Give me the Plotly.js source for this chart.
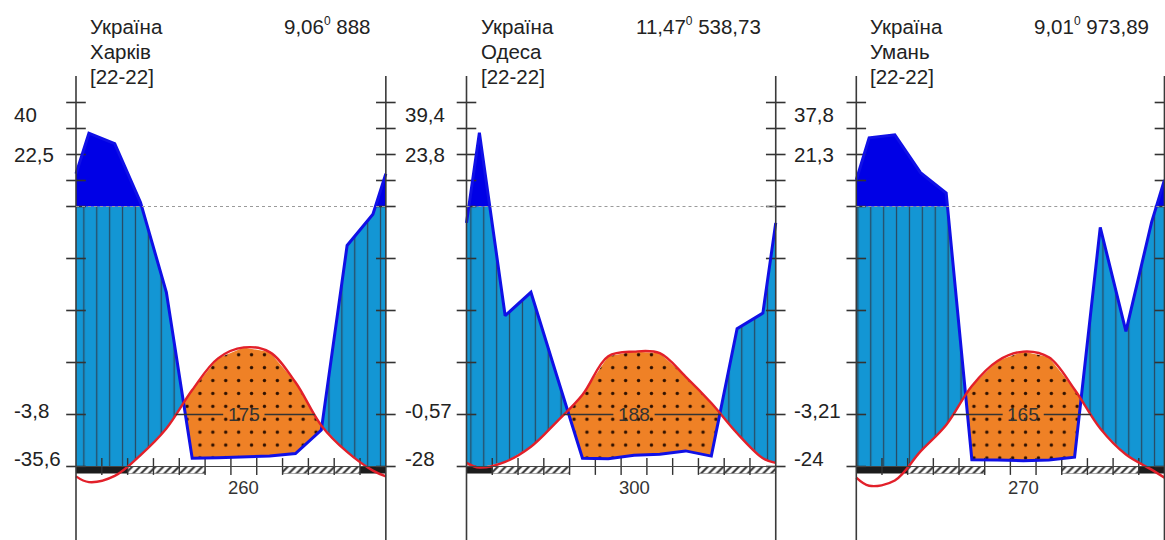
<!DOCTYPE html>
<html><head><meta charset="utf-8">
<script src="https://cdn.plot.ly/plotly-3.0.1.min.js"></script>
<style>html,body{margin:0;padding:0;background:#fff}#chart{width:1165px;height:540px}</style>
</head><body><div id="chart"></div>
<script>
// ---------- data ----------
const countries = ['Україна', 'Україна', 'Україна'];
const stations = ['Харків', 'Одеса', 'Умань'];
const periods = ['[22-22]', '[22-22]', '[22-22]'];
const meanTemps = ['9,06', '11,47', '9,01'];
const annualPrecip = ['888', '538,73', '973,89'];
const labelMaxT = ['40', '39,4', '37,8'];
const labelMeanMax = ['22,5', '23,8', '21,3'];
const labelMeanMin = ['-3,8', '-0,57', '-3,21'];
const labelAbsMin = ['-35,6', '-28', '-24'];
const daysAbove10 = ['175', '188', '165'];
const frostFreeDays = ['260', '300', '270'];

// monthly mean temperature, °C (Jan..Dec)
const tempKharkiv = [-3.0, -1.8, 2.2, 7.3, 14.7, 20.8, 22.9, 22.0, 16.2, 7.9, 2.8, -0.8];
const tempOdesa   = [-0.2, 0.9, 3.8, 8.6, 13.8, 21.2, 22.1, 21.8, 17.3, 12.2, 6.4, 1.6];
const tempUman    = [-3.7, -2.7, 2.9, 8.0, 15.5, 20.3, 22.1, 21.0, 14.8, 7.3, 2.3, -0.6];
// monthly precipitation, mm (Jan..Dec)
const precKharkiv = [382, 342, 115, 67, 3.2, 3.4, 3.7, 4.0, 5.0, 14, 85, 97];
const precOdesa   = [384, 58, 67, 35, 3.2, 3.0, 4.3, 4.7, 6.0, 4.0, 53, 59];
const precUman    = [364, 376, 230, 152, 2.6, 2.5, 2.2, 2.5, 3.6, 92, 52, 94];
// frost: 2 = sure frost (black), 1 = probable frost (hatched), 0 = none
const frostKharkiv = [2, 2, 1, 1, 1, 0, 0, 0, 1, 1, 1, 2];
const frostOdesa   = [2, 1, 1, 1, 0, 0, 0, 0, 0, 1, 1, 1];
const frostUman    = [2, 2, 1, 1, 1, 0, 0, 0, 1, 1, 1, 2];

// axis tick values (temperature units of the diagram)
const sideTicks = [0, 10, 20, 30, 40, 50, 55, 60, 65, 70];
const monthBounds = [1, 2, 3, 4, 5, 6, 7, 8, 9, 10, 11];

const temps = [tempKharkiv, tempOdesa, tempUman];
const precs = [precKharkiv, precOdesa, precUman];
const frosts = [frostKharkiv, frostOdesa, frostUman];

// ---------- layout geometry ----------
const W = 1165, H = 540;
const panelLeft = [76, 466.5, 856.3];
const panelScale = [25.82, 25.77, 25.68];
const baseY = 466.5, pxPerU = 5.2;
const FONT = 'Liberation Sans, Arial, sans-serif';
const TXT = '#222';

// Walter-Lieth precipitation scale: 2 mm per °C up to 100 mm, 20 mm per °C above
function toU(p) { return p <= 100 ? p / 2 : 50 + (p - 100) / 20; }
function lin(bx, by, x) {
  for (let i = 0; i < bx.length - 1; i++) {
    if (x >= bx[i] && x <= bx[i + 1]) {
      const t = (x - bx[i]) / (bx[i + 1] - bx[i]);
      return by[i] + t * (by[i + 1] - by[i]);
    }
  }
  return by[by.length - 1];
}

const traces = [];
const shapes = [];
const annotations = [];
const suffix = ['', '2', '3'];

for (let k = 0; k < 3; k++) {
  const xa = 'x' + suffix[k];
  const bx = [0].concat(temps[k].map((_, i) => i + 0.5)).concat([12]);
  const tEdge = (temps[k][0] + temps[k][11]) / 2;
  const pu = precs[k].map(toU);
  const pEdge = (pu[0] + pu[11]) / 2;
  const Tv = [tEdge].concat(temps[k]).concat([tEdge]);
  const Pv = [pEdge].concat(pu).concat([pEdge]);

  // breakpoints where curves cross each other / reference levels
  let xs = bx.slice();
  for (let i = 0; i < bx.length - 1; i++) {
    const pairs = [[Pv[i] - Tv[i], Pv[i + 1] - Tv[i + 1]], [Tv[i], Tv[i + 1]], [Pv[i] - 50, Pv[i + 1] - 50]];
    for (const [a, b] of pairs) {
      if ((a < 0 && b > 0) || (a > 0 && b < 0)) xs.push(bx[i] + (bx[i + 1] - bx[i]) * a / (a - b));
    }
  }
  xs.sort((a, b) => a - b);
  const Te = xs.map(x => lin(bx, Tv, x));
  const Pe = xs.map(x => lin(bx, Pv, x));
  const rev = xs.slice().reverse();

  const humBot = Te.map(t => Math.max(t, 0));
  const humTop = xs.map((_, i) => Math.max(Math.min(Pe[i], 50), humBot[i]));
  traces.push({
    x: xs.concat(rev), y: humTop.concat(humBot.slice().reverse()), xaxis: xa, yaxis: 'y',
    type: 'scatter', mode: 'lines', line: {width: 0}, fill: 'toself', fillcolor: '#1396d4',
    fillpattern: {shape: '|', size: 12.9, solidity: 0.1, fgcolor: '#284a62', bgcolor: '#1396d4', fillmode: 'replace'},
    hoverinfo: 'skip'
  });
  const darkTop = Pe.map(p => Math.max(p, 50));
  traces.push({
    x: xs.concat(rev), y: darkTop.concat(xs.map(() => 50)), xaxis: xa, yaxis: 'y',
    type: 'scatter', mode: 'lines', line: {width: 0}, fill: 'toself', fillcolor: '#0000e6', hoverinfo: 'skip'
  });
  const dryTop = xs.map((_, i) => Math.max(Te[i], Pe[i]));
  traces.push({
    x: xs.concat(rev), y: dryTop.concat(Pe.slice().reverse()), xaxis: xa, yaxis: 'y',
    type: 'scatter', mode: 'lines', line: {width: 0}, fill: 'toself', fillcolor: '#ef8126',
    fillpattern: {shape: '.', size: 12.9, solidity: 0.055, fgcolor: '#2e1000', bgcolor: '#ef8126', fillmode: 'replace'},
    hoverinfo: 'skip'
  });

  // frost bars
  const fr = frosts[k];
  const barH = 1.35;
  let i = 0;
  while (i < 12) {
    const code = fr[i];
    let j = i;
    while (j + 1 < 12 && fr[j + 1] === code) j++;
    if (code > 0) {
      const a = i, b = j + 1;
      const tr = {
        x: [a, b, b, a, a], y: [0, 0, -barH, -barH, 0], xaxis: xa, yaxis: 'y',
        type: 'scatter', mode: 'lines', fill: 'toself', hoverinfo: 'skip'
      };
      if (code === 2) {
        tr.line = {width: 0}; tr.fillcolor = '#1c1c1c';
      } else {
        tr.line = {width: 0.6, color: '#777'}; tr.fillcolor = '#ffffff';
        tr.fillpattern = {shape: '/', size: 5.5, solidity: 0.38, fgcolor: '#333', bgcolor: '#ffffff', fillmode: 'replace'};
      }
      traces.push(tr);
    }
    i = j + 1;
  }

  // month ticks on baseline
  traces.push({
    x: monthBounds, y: monthBounds.map(() => 0), xaxis: xa, yaxis: 'y', type: 'scatter', mode: 'markers',
    marker: {symbol: 'line-ns', size: 12, line: {width: 1.4, color: '#333'}}, hoverinfo: 'skip'
  });
  // side axis ticks
  traces.push({
    x: sideTicks.map(() => 0).concat(sideTicks.map(() => 12)), y: sideTicks.concat(sideTicks),
    xaxis: xa, yaxis: 'y', type: 'scatter', mode: 'markers',
    marker: {symbol: 'line-ew', size: 14, line: {width: 1.6, color: '#333'}}, hoverinfo: 'skip'
  });

  // precipitation line
  traces.push({
    x: bx, y: Pv, xaxis: xa, yaxis: 'y', type: 'scatter', mode: 'lines',
    line: {color: '#1010e6', width: 3}, hoverinfo: 'skip'
  });
  // temperature line
  traces.push({
    x: bx, y: Tv, xaxis: xa, yaxis: 'y', type: 'scatter', mode: 'lines',
    line: {color: '#e2202a', width: 2.4, shape: 'spline', smoothing: 1}, hoverinfo: 'skip'
  });

  // reference lines
  const uTop = (baseY - 76) / pxPerU;
  shapes.push({type: 'line', xref: xa, yref: 'y', x0: 0, x1: 0, y0: -20, y1: uTop, line: {color: '#3a3a3a', width: 1.6}, layer: 'above'});
  shapes.push({type: 'line', xref: xa, yref: 'y', x0: 12, x1: 12, y0: -20, y1: uTop, line: {color: '#3a3a3a', width: 1.6}, layer: 'above'});
  shapes.push({type: 'line', xref: xa, yref: 'y', x0: 0, x1: 12, y0: 50, y1: 50, line: {color: '#9a9a9a', width: 1, dash: 'dot'}, layer: 'above'});
  shapes.push({type: 'line', xref: xa, yref: 'y', x0: 0, x1: 12, y0: 0, y1: 0, line: {color: '#444', width: 1}, layer: 'above'});

  // period with T > 10 °C
  let up = null, down = null;
  for (let m = 0; m < bx.length - 1; m++) {
    const a = Tv[m] - 10, b = Tv[m + 1] - 10;
    if (a < 0 && b >= 0 && up === null) up = bx[m] + (bx[m + 1] - bx[m]) * a / (a - b);
    if (a >= 0 && b < 0) down = bx[m] + (bx[m + 1] - bx[m]) * a / (a - b);
  }
  const mid = 6.5, gap = 0.8;
  shapes.push({type: 'line', xref: xa, yref: 'y', x0: up, x1: mid - gap, y0: 10, y1: 10, line: {color: '#333', width: 1.3}, layer: 'above'});
  shapes.push({type: 'line', xref: xa, yref: 'y', x0: mid + gap, x1: down, y0: 10, y1: 10, line: {color: '#333', width: 1.3}, layer: 'above'});

  // texts
  const f = {family: FONT, size: 20.5, color: TXT};
  const topLines = [countries[k], stations[k], periods[k]];
  const topPx = [26.5, 51.5, 76.5];
  topLines.forEach((t, n) => annotations.push({
    text: t, xref: xa, x: 0, xshift: 12, xanchor: 'left', yref: 'paper', y: 1 - topPx[n] / H, yanchor: 'middle',
    showarrow: false, font: f
  }));
  annotations.push({
    text: meanTemps[k] + '<sup><span style="font-size:12px">0</span></sup> ' + annualPrecip[k], xref: xa, x: 12, xshift: -13, xanchor: 'right',
    yref: 'paper', y: 1 - 26.5 / H, yanchor: 'middle', showarrow: false, font: f
  });
  const sideLabels = [labelMaxT[k], labelMeanMax[k], labelMeanMin[k], labelAbsMin[k]];
  const sidePx = [114.5, 155, 410, 458];
  sideLabels.forEach((t, n) => annotations.push({
    text: t, xref: xa, x: 0, xshift: -64, xanchor: 'left', yref: 'paper', y: 1 - sidePx[n] / H, yanchor: 'middle',
    showarrow: false, font: f
  }));
  annotations.push({
    text: daysAbove10[k], xref: xa, x: mid, xanchor: 'center', yref: 'y', y: 10, yanchor: 'middle',
    showarrow: false, font: {family: FONT, size: 19, color: '#333'}
  });
  annotations.push({
    text: frostFreeDays[k], xref: xa, x: mid, xanchor: 'center', yref: 'paper', y: 1 - 487 / H, yanchor: 'middle',
    showarrow: false, font: {family: FONT, size: 18.5, color: '#333'}
  });
}

const layout = {
  width: W, height: H, margin: {l: 0, r: 0, t: 0, b: 0},
  paper_bgcolor: '#fff', plot_bgcolor: '#fff', showlegend: false,
  yaxis: {domain: [0, 1], range: [-(H - baseY) / pxPerU, baseY / pxPerU], visible: false, fixedrange: true},
  shapes: shapes, annotations: annotations
};
for (let k = 0; k < 3; k++) {
  const ax = {domain: [0, 1], range: [-panelLeft[k] / panelScale[k], (W - panelLeft[k]) / panelScale[k]],
    visible: false, fixedrange: true, anchor: 'y'};
  if (k > 0) ax.overlaying = 'x';
  layout['xaxis' + suffix[k]] = ax;
}

Plotly.newPlot('chart', traces, layout, {staticPlot: true, displayModeBar: false});
</script>
</body></html>
